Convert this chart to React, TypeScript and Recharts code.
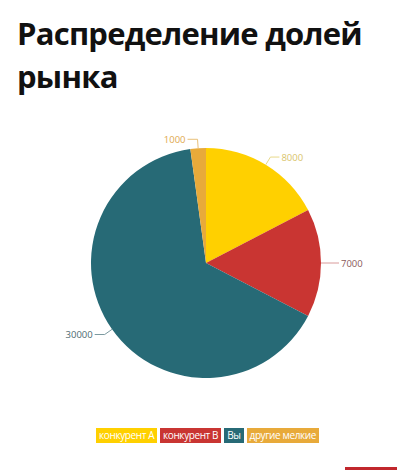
import { PieChart, Pie, Cell, Legend } from 'recharts';

const SEGMENTS = ['конкурент А', 'конкурент В', 'Вы', 'другие мелкие'];
const SHARES = [8000, 7000, 30000, 1000];
const COLORS = ['#FFD000', '#C93532', '#276A76', '#E8AA3A'];
const LABEL_COLORS = ['#d9c46a', '#8a5a5a', '#4d6a70', '#e0a94e'];
const LINE_COLORS = ['#e8d98a', '#d99a9a', '#7c9aa0', '#e8c07a'];

const DATA = SEGMENTS.map((name, i) => ({ name, value: SHARES[i] }));

const RAD = Math.PI / 180;

function renderLabel(props: any) {
  const { cx, cy, midAngle, outerRadius, value, index } = props;
  const cos = Math.cos(-midAngle * RAD);
  const sin = Math.sin(-midAngle * RAD);
  const x1 = cx + outerRadius * cos;
  const y1 = cy + outerRadius * sin;
  const x2 = cx + (outerRadius + 9) * cos;
  const y2 = cy + (outerRadius + 9) * sin;
  const right = cos >= 0;
  const x3 = x2 + (right ? 9 : -10);
  return (
    <g>
      <polyline
        points={`${x1},${y1} ${x2},${y2} ${x3},${y2}`}
        fill="none"
        stroke={LINE_COLORS[index]}
        strokeWidth={1}
      />
      <text
        x={x3 + (right ? 2 : -2)}
        y={y2}
        textAnchor={right ? 'start' : 'end'}
        dominantBaseline="central"
        fill={LABEL_COLORS[index]}
        fontSize={9.5}
        fontFamily="'Open Sans', sans-serif"
      >
        {value}
      </text>
    </g>
  );
}

function LegendBoxes() {
  return (
    <div style={{ display: 'flex', justifyContent: 'center', gap: 3, paddingLeft: 3 }}>
      {SEGMENTS.map((s, i) => (
        <span
          key={s}
          style={{
            background: COLORS[i],
            color: '#fff',
            fontSize: 10,
            fontFamily: "'Open Sans', sans-serif",
            lineHeight: '15px',
            height: 15,
            padding: '0 3px',
            whiteSpace: 'nowrap',
            letterSpacing: -0.4,
          }}
        >
          {s}
        </span>
      ))}
    </div>
  );
}

export default function App() {
  return (
    <div style={{ position: 'absolute', left: 0, top: 0, width: 412, height: 470, background: '#fff', overflow: 'hidden' }}>
      <div
        style={{
          position: 'absolute',
          left: 17,
          top: 12,
          fontFamily: "'Open Sans', sans-serif",
          fontWeight: 700,
          fontSize: 31,
          lineHeight: '43px',
          color: '#111',
          letterSpacing: -0.75,
        }}
      >
        Распределение долей
        <br />
        рынка
      </div>
      <div style={{ position: 'absolute', left: 0, top: 0 }}>
        <PieChart width={412} height={470} margin={{ top: 0, right: 0, bottom: 0, left: 0 }}>
          <Pie
            data={DATA}
            dataKey="value"
            nameKey="name"
            cx={206}
            cy={263}
            outerRadius={115}
            startAngle={90}
            endAngle={-270}
            stroke="none"
            label={renderLabel}
            labelLine={false}
            isAnimationActive={false}
          >
            {DATA.map((d, i) => (
              <Cell key={d.name} fill={COLORS[i]} />
            ))}
          </Pie>
          <Legend
            content={<LegendBoxes />}
            wrapperStyle={{ position: 'absolute', top: 428, left: 0, width: 412 }}
          />
        </PieChart>
      </div>
      <div style={{ position: 'absolute', left: 345, top: 467, width: 52, height: 3, background: '#c1272d' }} />
    </div>
  );
}
